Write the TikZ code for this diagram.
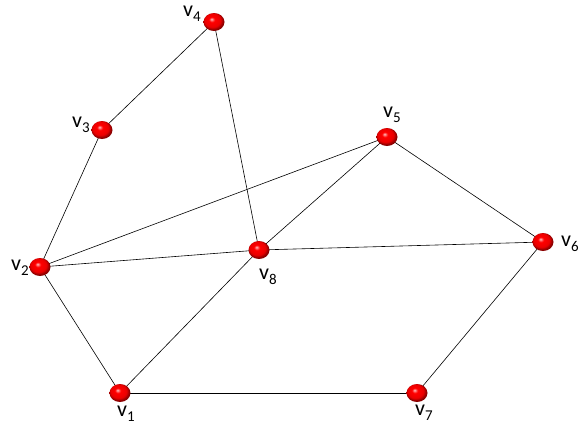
\documentclass[tikz,border=0pt]{standalone}
\usepackage{fontspec}
\setmainfont{Carlito}
\usetikzlibrary{shapes.geometric}
\pgfdeclareradialshading{redball}{\pgfqpoint{-6bp}{8bp}}{color(0bp)=(red!25!white); color(7bp)=(red); color(19bp)=(red!92!black); color(25bp)=(red!55!black); color(50bp)=(red!40!black)}
\tikzset{
  vtx/.style={ellipse, minimum width=21pt, minimum height=18pt, inner sep=0pt, shading=redball, draw=none},
  lbl/.style={inner sep=0pt, font=\fontsize{22}{22}\selectfont},
  edge/.style={draw=black, line width=0.6pt}
}
\newcommand{\vl}[1]{v\raisebox{-5pt}{\fontsize{15}{15}\selectfont #1}}
\begin{document}
\begin{tikzpicture}[x=1pt,y=-1pt]
\useasboundingbox (0,0) rectangle (582,429);
\coordinate (c1) at (120,393);
\coordinate (c2) at (40,267);
\coordinate (c3) at (102,130);
\coordinate (c4) at (214,22);
\coordinate (c5) at (387,137);
\coordinate (c6) at (543,242);
\coordinate (c7) at (417,393);
\coordinate (c8) at (259,250);
\draw[edge] (c1) -- (c2);
\draw[edge] (c2) -- (c3);
\draw[edge] (c3) -- (c4);
\draw[edge] (c4) -- (c8);
\draw[edge] (c2) -- (c5);
\draw[edge] (c2) -- (c8);
\draw[edge] (c8) -- (c6);
\draw[edge] (c5) -- (c6);
\draw[edge] (c5) -- (c8);
\draw[edge] (c8) -- (c1);
\draw[edge] (c1) -- (c7);
\draw[edge] (c7) -- (c6);
\node[vtx] (v1) at (c1) {};
\node[vtx] (v2) at (c2) {};
\node[vtx] (v3) at (c3) {};
\node[vtx] (v4) at (c4) {};
\node[vtx] (v5) at (c5) {};
\node[vtx] (v6) at (c6) {};
\node[vtx] (v7) at (c7) {};
\node[vtx] (v8) at (c8) {};
\node[lbl] (l1) at (126,414) {\vl{1}};
\node[lbl] (l2) at (20,268) {\vl{2}};
\node[lbl] (l3) at (81,125) {\vl{3}};
\node[lbl] (l4) at (192,14) {\vl{4}};
\node[lbl] (l5) at (392,115) {\vl{5}};
\node[lbl] (l6) at (570,244) {\vl{6}};
\node[lbl] (l7) at (424,413) {\vl{7}};
\node[lbl] (l8) at (268,277) {\vl{8}};
\end{tikzpicture}
\end{document}
